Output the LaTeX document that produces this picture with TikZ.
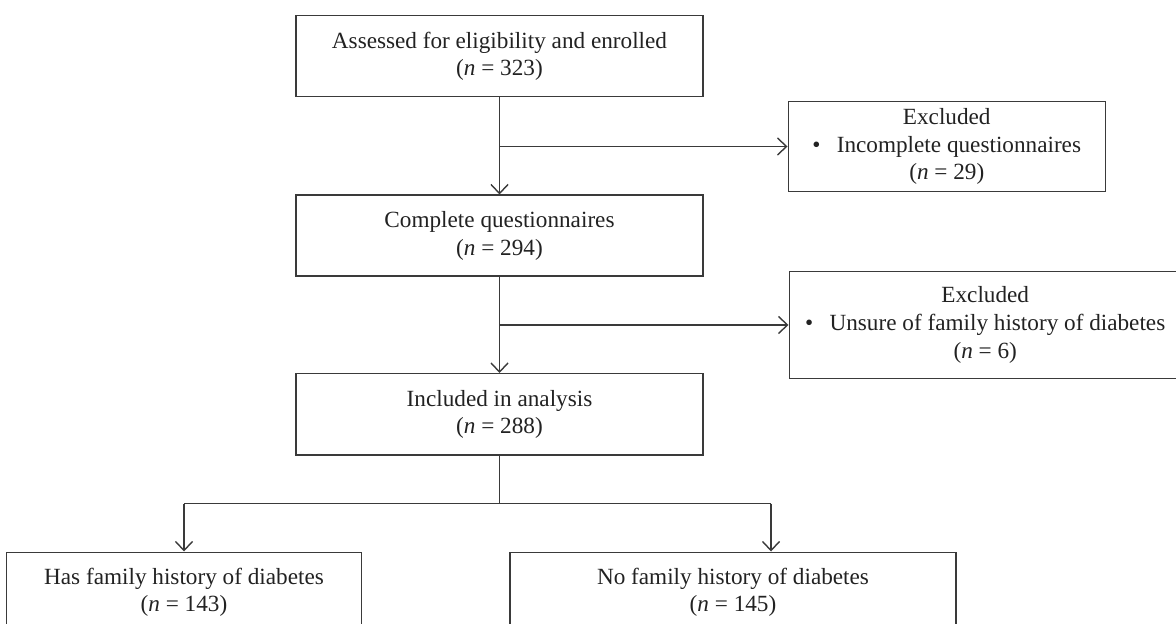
\documentclass[tikz,border=0pt]{standalone}
\usepackage{fontspec}
\setmainfont{Liberation Serif}
\usepackage{xcolor}
\usepackage{tikz}
\usetikzlibrary{arrows.meta, positioning}
\definecolor{ink}{HTML}{3A3A3A}
\definecolor{txt}{HTML}{222222}
\newcommand{\nn}[1]{(\textit{n} = #1)}
\newcommand{\bul}{\textbullet\hspace{0.7em}}
\tikzset{
  flowbox/.style={rectangle, draw=ink, line width=0.75pt, fill=white, align=center, text=txt, font=\fontsize{11.6}{13.8}\selectfont, inner sep=3pt},
  mainbox/.style={flowbox, minimum width=203.5pt, minimum height=40.5pt},
  exbox/.style={flowbox, anchor=west},
  arr/.style={-{Straight Barb[length=4.5pt, width=8.5pt]}, line width=0.7pt, ink},
  ln/.style={line width=0.7pt, ink},
}
\begin{document}
\begin{tikzpicture}
\useasboundingbox (0,0) rectangle (588pt,-312pt);
% main column
\node[mainbox, anchor=north] (asse) at (249.75pt,-7.5pt) {Assessed for eligibility and enrolled\\\nn{323}};
\node[mainbox, below=48.5pt of asse] (comp) {Complete questionnaires\\\nn{294}};
\node[mainbox, below=48pt of comp] (incl) {Included in analysis\\\nn{288}};
% exclusions
\coordinate[below=24.5pt of asse] (j1);
\coordinate[below=24pt of comp] (j2);
\node[exbox, right=144pt of j1, minimum width=158.5pt, minimum height=45pt] (exc1) {Excluded\\\bul Incomplete questionnaires\\\nn{29}};
\node[exbox, right=144.5pt of j2, minimum width=196pt, minimum height=53.5pt] (exc2) {Excluded\\\bul Unsure of family history of diabetes\\\nn{6}};
% split
\coordinate[below=24pt of incl] (j3);
\coordinate[left=157.75pt of j3] (jl);
\coordinate[right=135.75pt of j3] (jr);
\node[flowbox, anchor=north, below=24pt of jl, minimum width=177.5pt, minimum height=40pt] (hasfh) {Has family history of diabetes\\\nn{143}};
\node[flowbox, anchor=north, below=24pt of jr, xshift=-19pt, minimum width=223pt, minimum height=40pt] (nofh) {No family history of diabetes\\\nn{145}};
\draw[arr] (asse) -- (comp);
\draw[arr] (j1) -- (exc1);
\draw[arr] (comp) -- (incl);
\draw[arr] (j2) -- (exc2);
\draw[ln] (incl) -- (j3);
\draw[ln] (jl) -- (jr);
\draw[arr] (jl) -- (hasfh);
\draw[arr] (jr) -- (jr |- nofh.north);
\end{tikzpicture}
\end{document}
